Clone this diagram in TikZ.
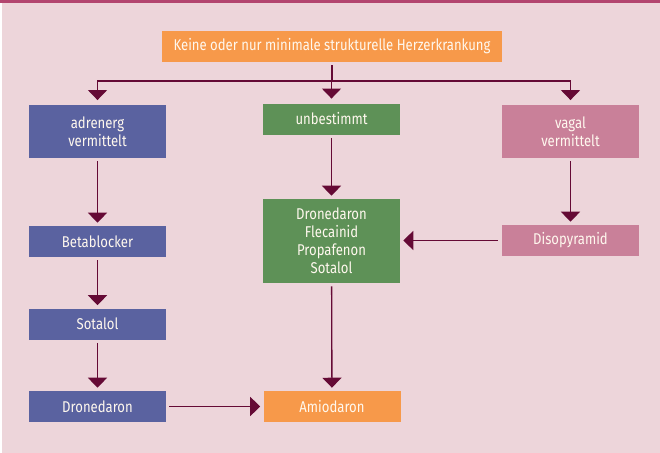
\documentclass[tikz,border=0pt]{standalone}
\usepackage{fontspec}
\setmainfont[FakeStretch=0.84]{Fira Sans}
\usetikzlibrary{arrows.meta,calc}

\definecolor{bgpink}{HTML}{EDD5DA}
\definecolor{topband}{HTML}{B3456F}
\definecolor{boxorange}{HTML}{F7994A}
\definecolor{boxblue}{HTML}{5A62A0}
\definecolor{boxgreen}{HTML}{5E9157}
\definecolor{boxmauve}{HTML}{C98099}
\definecolor{arrowred}{HTML}{650A35}
\definecolor{textcream}{HTML}{FFF8EE}

\tikzset{
  box/.style={draw=none, text=textcream, align=center, inner sep=0pt,
    minimum width=102.75pt, minimum height=23.25pt,
    font=\fontsize{11.7}{13.6}\selectfont},
  tallbox/.style={box, minimum height=39.75pt},
  arr/.style={draw=arrowred, line width=1pt,
    -{Triangle[width=14.25pt, length=7.5pt]}},
  plain/.style={draw=arrowred, line width=1pt},
}

\begin{document}
\begin{tikzpicture}[x=0.75pt, y=-0.75pt]
  % page background and top rule
  \fill[bgpink] (0,0) rectangle (660,453);
  \fill[white] (0,3.5) rectangle (2,453);
  \fill[topband] (0,0) rectangle (660,3.5);
  \useasboundingbox (0,0) rectangle (660,453);

  % boxes
  \node[box, fill=boxorange, minimum width=255pt] (top) at (332,46.5)
    {Keine oder nur minimale strukturelle Herzerkrankung};

  \node[tallbox, fill=boxblue] (adr) at (97.5,131.5) {adrenerg\\vermittelt};
  \node[box, fill=boxgreen] (unb) at (331.5,119) {unbestimmt};
  \node[tallbox, fill=boxmauve] (vag) at (570.5,131.5) {vagal\\vermittelt};

  \node[box, fill=boxblue] (beta) at (97.5,241.5) {Betablocker};
  \node[box, fill=boxgreen, minimum height=63pt] (mix) at (331.5,241)
    {Dronedaron\\Flecainid\\Propafenon\\Sotalol};
  \node[box, fill=boxmauve] (diso) at (570.5,240.5) {Disopyramid};

  \node[box, fill=boxblue] (sota) at (97.5,324) {Sotalol};

  \node[box, fill=boxblue] (drone) at (97.5,406.5) {Dronedaron};
  \node[box, fill=boxorange] (amio) at (332,406.5) {Amiodaron};

  % branching below the top box
  \coordinate (split) at ($(top.south)+(0,18.75)$);
  \draw[plain, shorten <=2.25pt] (top.south) -- (split);
  \draw[arr, shorten >=3.5pt] (split) -| (adr.north);
  \draw[arr, shorten >=3.5pt] (split) -- (split -| unb.north) -- (unb.north);
  \draw[arr, shorten >=3.5pt] (split) -| (vag.north);

  % chains
  \draw[arr, shorten <=2.25pt, shorten >=2.25pt] (adr) -- (beta);
  \draw[arr, shorten <=2.25pt, shorten >=2.25pt] (beta) -- (sota);
  \draw[arr, shorten <=2.25pt, shorten >=2.25pt] (sota) -- (drone);
  \draw[arr, shorten <=2.25pt, shorten >=2.25pt] (drone) -- (amio);
  \draw[arr, shorten <=2.25pt, shorten >=2.25pt] (unb) -- (mix);
  \draw[arr, shorten <=2.25pt, shorten >=2.25pt] (mix) -- (amio);
  \draw[arr, shorten <=2.25pt, shorten >=2.25pt] (vag) -- (diso);
  \draw[arr, shorten <=3pt, shorten >=2.25pt] (diso.west) -- (diso.west -| mix.east);
\end{tikzpicture}
\end{document}
